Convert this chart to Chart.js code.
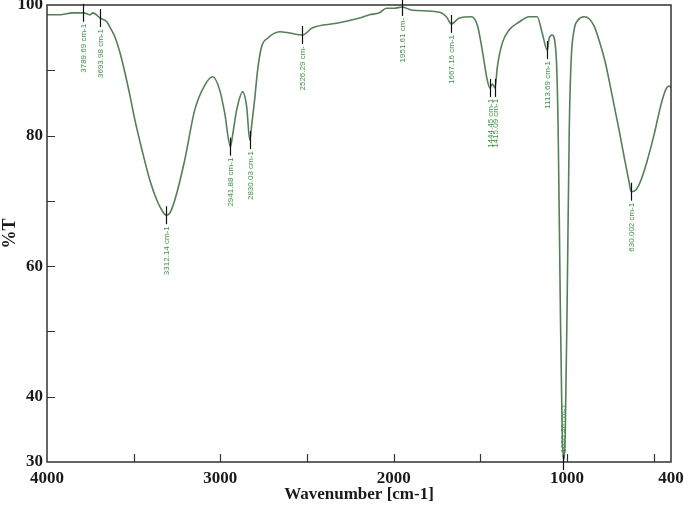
<!DOCTYPE html>
<html><head><meta charset="utf-8">
<script src="https://cdn.jsdelivr.net/npm/chart.js@4/dist/chart.umd.min.js"></script>
<style>html,body{margin:0;padding:0;background:#fff}#wrap{width:685px;height:509px}</style>
</head><body><div id="wrap"><canvas id="c" width="685" height="509"></canvas></div>
<script>
const wavenumbers = [4000,3925,3850,3789.69,3752,3735,3693.98,3654,3637,3608,3580,3551,3522,3493,3452,3407,3366,3338,3312.14,3292,3263,3205,3148,3090,3044,3004,2975,2941.88,2929,2906,2871,2848,2830.03,2819,2802,2785,2762,2727,2658,2600,2526.29,2468,2330,2197,2140,2082,2042,1996,1951.61,1892,1736,1696,1667.16,1621,1552,1517,1489,1460,1444.45,1431,1415.09,1402,1373,1333,1276,1218,1172,1143,1113.69,1103,1086,1062,1051,1039,1028,1020.46,1010,999,987,976,959,936,901,872,844,815,780,740,700,665,642,630.002,602,573,539,498,458,429,411,400];
const transmittance = [98.5,98.5,98.8,98.8,98.5,98.8,98.0,97.4,96.6,95.1,92.8,89.7,86.2,82.4,77.8,73.2,70.1,68.6,67.8,68.1,70.1,76.3,83.9,87.7,89.0,87.0,83.5,78.3,80.1,83.9,86.7,84.4,79.3,81.6,85.5,90.0,93.6,94.9,95.9,95.7,95.4,96.5,97.2,98.0,98.5,98.8,99.5,99.5,99.7,99.2,98.9,98.2,97.1,98.0,98.2,96.9,93.1,88.5,87.3,87.9,87.3,90.5,94.2,96.2,97.4,98.2,98.2,95.7,93.1,94.9,95.4,92.0,80.9,54.8,34.9,30.3,34.9,54.8,80.9,91.6,96.2,97.7,98.2,97.9,96.8,94.6,91.3,86.2,80.9,76.0,72.9,71.4,71.7,73.2,76.0,80.1,84.7,87.1,87.6,87.3];
const peakWavenumbers = [3789.69,3693.98,3312.14,2941.88,2830.03,2526.29,1951.61,1667.16,1444.45,1415.09,1113.69,1020.46,630.002];
const peakTransmittance = [98.8,98.0,67.8,78.3,79.3,95.4,99.7,97.1,87.3,87.3,93.1,30.3,71.4];
const peakLabels = ["3789.69 cm-1","3693.98 cm-1","3312.14 cm-1","2941.88 cm-1","2830.03 cm-1","2526.29 cm-","1951.61 cm-","1667.16 cm-1","1444.45 cm-1","1415.09 cm-1","1113.69 cm-1","1020.46 cm-1","630.002 cm-1"];
const xTickLabels = [4000,3000,2000,1000,400];
const yTickLabels = [30,40,60,80,100];
const xInnerTicks = [3500,3000,2500,2000,1500,1000,500];
const yInnerTicks = [40,50,60,70,80,90];

const frameAndPeaks = {
  id: 'frameAndPeaks',
  afterDatasetsDraw(chart) {
    const {ctx, chartArea: a, scales: {x, y}} = chart;
    ctx.save();
    ctx.strokeStyle = '#333';
    ctx.lineWidth = 1.5;
    ctx.strokeRect(a.left, a.top, a.right - a.left, a.bottom - a.top);
    ctx.lineWidth = 1.2;
    ctx.beginPath();
    xInnerTicks.forEach(v => { const px = Math.round(x.getPixelForValue(v)) + 0.5; ctx.moveTo(px, a.bottom); ctx.lineTo(px, a.bottom - 8); });
    yInnerTicks.forEach(v => { const py = Math.round(y.getPixelForValue(v)) + 0.5; ctx.moveTo(a.left, py); ctx.lineTo(a.left + 8, py); });
    ctx.stroke();
    ctx.font = '8px "Liberation Sans", Arial, sans-serif';
    ctx.fillStyle = '#3f8f45';
    ctx.textBaseline = 'middle';
    peakWavenumbers.forEach((w, i) => {
      const px = Math.round(x.getPixelForValue(w)) + 0.5;
      const py = y.getPixelForValue(peakTransmittance[i]);
      const low = py > a.bottom - 60;
      ctx.strokeStyle = '#111';
      ctx.lineWidth = 1.2;
      ctx.beginPath();
      if (low) { ctx.moveTo(px, py - 5); ctx.lineTo(px, py + 10); }
      else { ctx.moveTo(px, py - 9); ctx.lineTo(px, py + 9); }
      ctx.stroke();
      ctx.save();
      if (low) { ctx.translate(px, py - 7); ctx.rotate(-Math.PI / 2); ctx.textAlign = 'left'; }
      else { ctx.translate(px, py + 11); ctx.rotate(-Math.PI / 2); ctx.textAlign = 'right'; }
      ctx.fillText(peakLabels[i], 0, 0);
      ctx.restore();
    });
    ctx.restore();
  }
};

const tickFont = {family: '"Liberation Serif", "Times New Roman", serif', size: 17, weight: 'bold'};
new Chart(document.getElementById('c'), {
  type: 'line',
  data: { datasets: [{
    data: wavenumbers.map((w, i) => ({x: w, y: transmittance[i]})),
    borderColor: '#557f58', borderWidth: 1.6, pointRadius: 0,
    cubicInterpolationMode: 'monotone', fill: false
  }]},
  options: {
    responsive: false, animation: false, devicePixelRatio: 1,
    layout: {padding: {top: 5, right: 14, left: 0, bottom: 0}},
    plugins: {legend: {display: false}, tooltip: {enabled: false}},
    scales: {
      x: {
        type: 'linear', reverse: true, min: 400, max: 4000,
        afterBuildTicks: s => { s.ticks = xTickLabels.map(v => ({value: v})); },
        afterFit: s => { s.height = 47; s.paddingLeft = 0; s.paddingRight = 0; },
        grid: {display: false, drawTicks: false},
        border: {display: false},
        ticks: {font: tickFont, color: '#1a1a1a', padding: 6, maxRotation: 0, autoSkip: false, callback: v => String(v)},
        title: {display: true, text: 'Wavenumber [cm-1]', font: tickFont, color: '#1a1a1a', padding: {top: 0, bottom: 4}}
      },
      y: {
        min: 30, max: 100,
        afterBuildTicks: s => { s.ticks = yTickLabels.map(v => ({value: v})); },
        afterFit: s => { s.width = 47; s.paddingTop = 0; s.paddingBottom = 0; },
        grid: {display: false, drawTicks: false},
        border: {display: false},
        ticks: {font: tickFont, color: '#1a1a1a', padding: 4, autoSkip: false, callback: v => String(v)},
        title: {display: true, text: '%T', font: {family: tickFont.family, size: 18, weight: 'bold'}, color: '#1a1a1a', padding: 0}
      }
    }
  },
  plugins: [frameAndPeaks]
});
</script>
</body></html>
